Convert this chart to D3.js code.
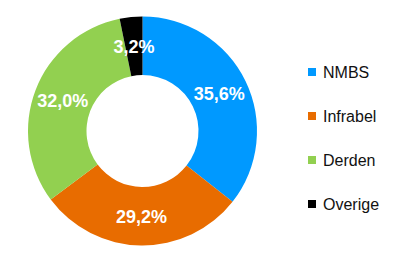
<!DOCTYPE html>
<html>
<head>
<meta charset="utf-8">
<script src="https://cdn.jsdelivr.net/npm/d3@7"></script>
<style>
  body { margin: 0; background: #fff; }
  svg { display: block; }
</style>
</head>
<body>
<svg id="chart" width="400" height="262"></svg>
<script>
var categories = ["NMBS", "Infrabel", "Derden", "Overige"];
var values = [35.6, 29.2, 32.0, 3.2];
var labels = ["35,6%", "29,2%", "32,0%", "3,2%"];
var colors = ["#0099ff", "#e86c00", "#92d050", "#000000"];

var svg = d3.select("#chart");
var cx = 142.5, cy = 131;
var outer = 114.5, inner = 56;

var pie = d3.pie().sort(null).value(function(d) { return d; });
var arcs = pie(values);
var arc = d3.arc().innerRadius(inner).outerRadius(outer);

var g = svg.append("g").attr("transform", "translate(" + cx + "," + cy + ")");

g.selectAll("path.slice")
  .data(arcs)
  .enter().append("path")
  .attr("class", "slice")
  .attr("d", arc)
  .attr("fill", function(d, i) { return colors[i]; });

g.selectAll("text.lbl")
  .data(arcs)
  .enter().append("text")
  .attr("class", "lbl")
  .attr("x", function(d) { return arc.centroid(d)[0]; })
  .attr("y", function(d) { return arc.centroid(d)[1]; })
  .attr("dy", "0.36em")
  .attr("text-anchor", "middle")
  .attr("font-family", "Liberation Sans, Arial, sans-serif")
  .attr("font-weight", "bold")
  .attr("font-size", "18px")
  .attr("fill", "#fff")
  .text(function(d, i) { return labels[i]; });

var legend = svg.append("g");
var rowY = d3.scalePoint().domain(categories).range([72, 204]);

var item = legend.selectAll("g.item")
  .data(categories)
  .enter().append("g")
  .attr("class", "item")
  .attr("transform", function(d) { return "translate(308," + rowY(d) + ")"; });

item.append("rect")
  .attr("x", 0)
  .attr("y", -4)
  .attr("width", 8)
  .attr("height", 8)
  .attr("fill", function(d, i) { return colors[i]; });

item.append("text")
  .attr("x", 15)
  .attr("y", 0)
  .attr("dy", "0.36em")
  .attr("font-family", "Liberation Sans, Arial, sans-serif")
  .attr("font-size", "16px")
  .attr("fill", "#111")
  .text(function(d) { return d; });
</script>
</body>
</html>
